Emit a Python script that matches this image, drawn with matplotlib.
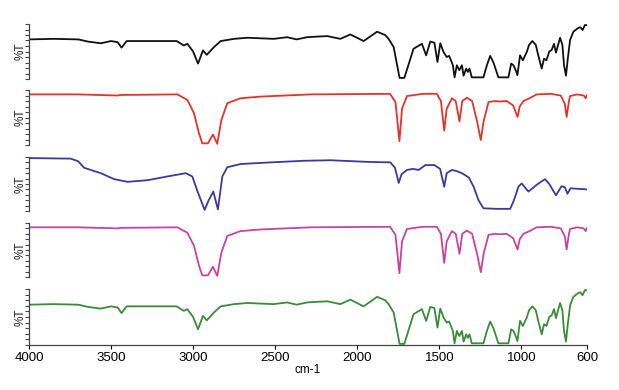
import numpy as np
import matplotlib.pyplot as plt

plt.rcParams['font.family'] = ['Liberation Sans', 'DejaVu Sans']

# black / green spectrum (same sample shape)
wn_a = [4000, 3850, 3700, 3640, 3562, 3500, 3460, 3436, 3405, 3300, 3100, 3057, 3035, 3000,
        2970, 2940, 2917, 2873, 2832, 2750, 2670, 2509, 2427, 2370, 2305, 2250, 2183, 2103,
        2042, 1961, 1879, 1830, 1809, 1778, 1742, 1713, 1657, 1606, 1580, 1555, 1530, 1511,
        1494, 1474, 1455, 1440, 1417, 1407, 1393, 1378, 1362, 1352, 1336, 1326, 1316, 1302,
        1231, 1210, 1190, 1170, 1150, 1140, 1079, 1062, 1048, 1033, 1024, 1008, 991, 967,
        953, 933, 912, 897, 876, 862, 847, 830, 815, 801, 789, 764, 750, 740, 728, 717, 703,
        683, 653, 640, 627, 613, 600]
t_a = [0.72, 0.73, 0.72, 0.68, 0.65, 0.69, 0.67, 0.57, 0.69, 0.69, 0.69, 0.61, 0.64, 0.50,
       0.28, 0.52, 0.44, 0.58, 0.69, 0.73, 0.75, 0.73, 0.76, 0.72, 0.76, 0.77, 0.78, 0.73,
       0.81, 0.69, 0.86, 0.80, 0.73, 0.58, 0.02, 0.02, 0.55, 0.64, 0.43, 0.68, 0.66, 0.31,
       0.65, 0.49, 0.40, 0.42, 0.25, 0.03, 0.25, 0.16, 0.25, 0.06, 0.19, 0.13, 0.19, 0.03,
       0.03, 0.25, 0.42, 0.30, 0.12, 0.03, 0.03, 0.28, 0.25, 0.15, 0.07, 0.43, 0.34, 0.49,
       0.62, 0.69, 0.62, 0.43, 0.19, 0.37, 0.34, 0.50, 0.53, 0.64, 0.48, 0.75, 0.62, 0.25,
       0.06, 0.37, 0.71, 0.86, 0.93, 0.94, 0.89, 0.98, 0.98]

# red / magenta spectrum
wn_b = [4000, 3700, 3461, 3440, 3096, 3035, 2995, 2964, 2944, 2910, 2879, 2853, 2828, 2792,
        2711, 2589, 2285, 1800, 1767, 1743, 1727, 1697, 1600, 1515, 1490, 1470, 1455, 1423,
        1400, 1377, 1360, 1332, 1300, 1270, 1247, 1230, 1200, 1160, 1129, 1090, 1050, 1023,
        1010, 987, 950, 906, 820, 760, 735, 724, 710, 703, 660, 620, 608, 600]
t_b = [0.92, 0.92, 0.90, 0.91, 0.92, 0.82, 0.58, 0.21, 0.03, 0.03, 0.19, 0.02, 0.45, 0.76,
       0.85, 0.88, 0.92, 0.93, 0.78, 0.07, 0.66, 0.89, 0.93, 0.93, 0.80, 0.26, 0.66, 0.85,
       0.80, 0.43, 0.80, 0.86, 0.80, 0.43, 0.09, 0.43, 0.78, 0.80, 0.79, 0.80, 0.72, 0.51,
       0.70, 0.80, 0.85, 0.92, 0.93, 0.90, 0.75, 0.51, 0.80, 0.89, 0.92, 0.90, 0.85, 0.91]

# blue spectrum
wn_c = [4000, 3745, 3700, 3664, 3623, 3562, 3481, 3400, 3278, 3156, 3045, 3005, 2974, 2930,
        2905, 2877, 2849, 2822, 2792, 2711, 2529, 2325, 2163, 1940, 1798, 1770, 1747, 1730,
        1697, 1660, 1626, 1585, 1530, 1495, 1470, 1455, 1423, 1395, 1362, 1320, 1291, 1261,
        1231, 1150, 1068, 1045, 1018, 998, 957, 900, 856, 830, 789, 755, 735, 719, 701, 650, 600]
t_c = [0.98, 0.97, 0.92, 0.80, 0.76, 0.70, 0.59, 0.54, 0.57, 0.64, 0.70, 0.64, 0.37, 0.02,
       0.20, 0.36, 0.03, 0.64, 0.81, 0.87, 0.90, 0.93, 0.94, 0.91, 0.90, 0.80, 0.52, 0.68,
       0.76, 0.78, 0.76, 0.85, 0.85, 0.78, 0.45, 0.70, 0.76, 0.74, 0.70, 0.62, 0.45, 0.20,
       0.05, 0.04, 0.04, 0.20, 0.45, 0.51, 0.36, 0.50, 0.59, 0.50, 0.29, 0.46, 0.44, 0.32,
       0.42, 0.41, 0.40]

series = [(wn_a, t_a, '#111111'),
          (wn_b, t_b, '#e2342c'),
          (wn_c, t_c, '#3a3aa0'),
          (wn_b, t_b, '#c8449c'),
          (wn_a, t_a, '#3a8c3a')]

xticks = [4000, 3500, 3000, 2500, 2000, 1500, 1000, 600]

W, H = 619, 390
fig = plt.figure(figsize=(W / 100, H / 100), dpi=100)
panels = [(24, 79), (90, 145), (157, 211), (223, 277), (289, 345)]
x0, x1 = 29, 587

for i, ((top, bot), (wn, t, col)) in enumerate(zip(panels, series)):
    ax = fig.add_axes([x0 / W, 1 - bot / H, (x1 - x0) / W, (bot - top) / H])
    ax.plot(wn, t, color=col, lw=1.3)
    ax.set_xlim(4000, 600)
    ax.set_ylim(0, 1)
    for s in ['top', 'right']:
        ax.spines[s].set_visible(False)
    ax.spines['left'].set_color('#444444')
    ax.spines['left'].set_linewidth(0.9)
    ax.set_yticks(np.linspace(0, 1, 11))
    ax.set_yticklabels([])
    ax.tick_params(axis='y', direction='out', length=3, width=0.8, color='#444444', pad=1)
    ax.set_ylabel('%T', fontsize=8.5, labelpad=-2.5, color='#222222')
    if i < len(panels) - 1:
        ax.spines['bottom'].set_visible(False)
        ax.set_xticks([])
    else:
        ax.spines['bottom'].set_color('#444444')
        ax.spines['bottom'].set_linewidth(0.9)
        ax.set_xticks(xticks)
        ax.set_xticklabels([str(v) for v in xticks], fontsize=9.5)
        ax.tick_params(axis='x', direction='out', length=3, width=0.8, pad=2)
        ax.set_xlabel('cm-1', fontsize=8.5, labelpad=0)

fig.savefig('out.png', dpi=100)
